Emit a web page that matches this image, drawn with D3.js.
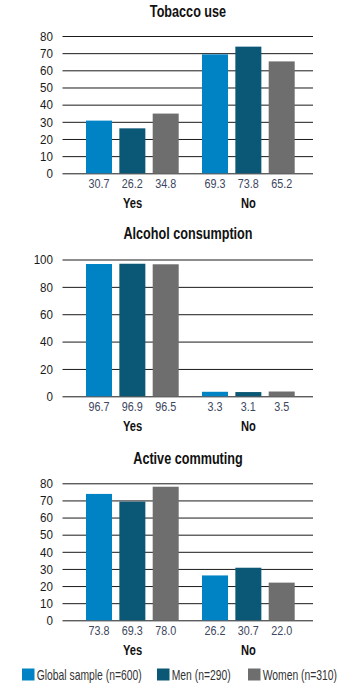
<!DOCTYPE html>
<html><head><meta charset="utf-8">
<script src="https://cdn.jsdelivr.net/npm/d3@7"></script>
<style>
body{margin:0;background:#fff;}
svg text{font-family:"Liberation Sans","Arial",sans-serif;}
</style></head>
<body><svg id="c" width="347" height="686"></svg>
<script>
const categories = ["Yes", "No"];
const series = ["Global sample (n=600)", "Men (n=290)", "Women (n=310)"];
const colors = ["#0083C4", "#0B5876", "#6E6E6E"];
const titles = ["Tobacco use", "Alcohol consumption", "Active commuting"];
const tobacco = [[30.7, 26.2, 34.8], [69.3, 73.8, 65.2]];
const alcohol = [[96.7, 96.9, 96.5], [3.3, 3.1, 3.5]];
const commuting = [[73.8, 69.3, 78.0], [26.2, 30.7, 22.0]];
const ticks80 = [0, 10, 20, 30, 40, 50, 60, 70, 80];
const ticks100 = [0, 20, 40, 60, 80, 100];

const panels = [
  {title: titles[0], data: tobacco, ticks: ticks80, max: 80, top: 36, base: 173.3, titleY: 16.7},
  {title: titles[1], data: alcohol, ticks: ticks100, max: 100, top: 259.5, base: 396.3, titleY: 239},
  {title: titles[2], data: commuting, ticks: ticks80, max: 80, top: 483.3, base: 620.3, titleY: 464}
];

const svg = d3.select("#c");
function txt(parent, x, y, s, opts) {
  const g = parent.append("g").attr("transform", `translate(${x},${y}) scale(${opts.sx},1)`);
  return g.append("text").attr("text-anchor", opts.anchor || "middle")
    .attr("font-size", opts.size).attr("font-weight", opts.weight || "normal")
    .attr("fill", opts.fill || "#1a1a1a").text(s);
}

const gridX0 = 62.5, gridX1 = 313;
const x = d3.scaleBand().domain(categories).range([74.5, 306.5]);
const xi = d3.scaleBand().domain(series).range([11.5, 104.2]).paddingInner(0.22).paddingOuter(0);
const TSX = 0.86;

panels.forEach(p => {
  const g = svg.append("g");
  const y = d3.scaleLinear().domain([0, p.max]).range([p.base, p.top]);
  txt(g, 188, p.titleY, p.title, {size: 16, weight: "bold", sx: 0.79, fill: "#111"});
  const ax = g.append("g").attr("transform", `translate(${gridX0},0)`)
    .call(d3.axisLeft(y).tickValues(p.ticks).tickSize(-(gridX1 - gridX0)).tickPadding(9.5));
  ax.select(".domain").remove();
  ax.selectAll(".tick line").attr("stroke", "#1a1a1a").attr("stroke-width", 1);
  ax.selectAll(".tick text").attr("font-size", 13.5).attr("fill", "#1a1a1a")
    .attr("x", -9.5 / TSX).attr("transform", `scale(${TSX},1)`);
  categories.forEach((c, ci) => {
    const gg = g.append("g").attr("transform", `translate(${x(c)},0)`);
    series.forEach((s, si) => {
      const v = p.data[ci][si];
      gg.append("rect").attr("x", xi(s)).attr("width", xi.bandwidth())
        .attr("y", y(v)).attr("height", y(0) - y(v)).attr("fill", colors[si]);
      txt(gg, xi(s) + xi.bandwidth() / 2, p.base + 14.5, v.toFixed(1), {size: 13, sx: 0.83, fill: "#3d4660"});
    });
    txt(gg, x.bandwidth() / 2, p.base + 34.5, c, {size: 15.5, weight: "bold", sx: 0.72, fill: "#111"});
  });
});

const legX = [22, 157, 248];
const leg = svg.append("g");
series.forEach((s, i) => {
  leg.append("rect").attr("x", legX[i]).attr("y", 668.5).attr("width", 12.5).attr("height", 12).attr("fill", colors[i]);
  txt(leg, legX[i] + 14.7, 680, s, {size: 14, sx: 0.74, anchor: "start", fill: "#333"});
});
</script></body></html>
